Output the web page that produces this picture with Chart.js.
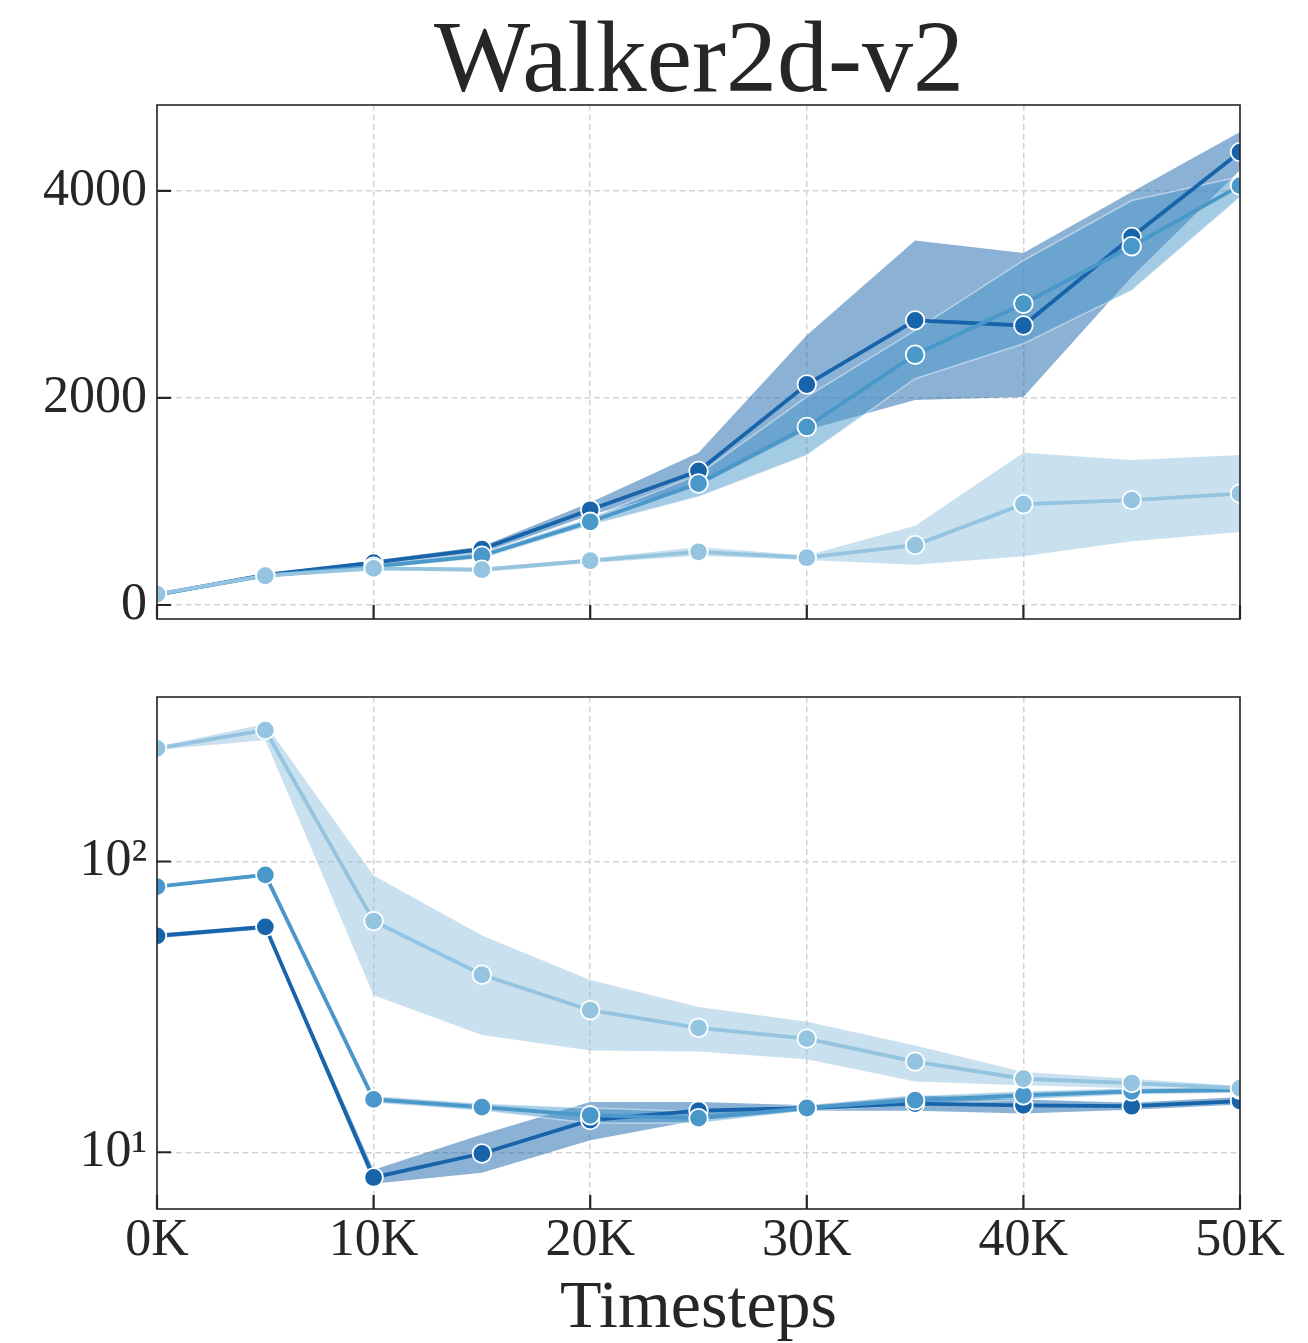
<!DOCTYPE html>
<html>
<head>
<meta charset="utf-8">
<script src="https://cdn.jsdelivr.net/npm/chart.js@4.4.1/dist/chart.umd.min.js"></script>
<style>
  html, body { margin: 0; padding: 0; background: #ffffff; }
  body { width: 1308px; height: 1343px; position: relative; overflow: hidden; font-family: 'Liberation Serif', 'DejaVu Serif', serif; color: #262626; }
  #title { position: absolute; left: 0; width: 1398px; top: 6px; text-align: center; font-size: 102px; line-height: 1; white-space: nowrap; }
  #xlabel { position: absolute; left: 0; width: 1397px; top: 1270px; text-align: center; font-size: 68px; line-height: 1; white-space: nowrap; }
  #c1 { position: absolute; left: 0; top: 0; }
  #c2 { position: absolute; left: 0; top: 640px; }
</style>
</head>
<body>
<div id="title">Walker2d-v2</div>
<canvas id="c1" width="1308" height="640"></canvas>
<canvas id="c2" width="1308" height="703"></canvas>
<div id="xlabel">Timesteps</div>
<script>
// ---------- data ----------
const timesteps = [0, 5000, 10000, 15000, 20000, 25000, 30000, 35000, 40000, 45000, 50000];
const xTicks = [0, 10000, 20000, 30000, 40000, 50000];
const xTickLabels = ['0K', '10K', '20K', '30K', '40K', '50K'];

// top panel (linear)
const yTicksTop = [0, 2000, 4000];
const yTickLabelsTop = ['0', '2000', '4000'];
const darkTop   = [100, 290, 410, 540, 920, 1295, 2130, 2750, 2700, 3555, 4375];
const darkTopLo = [85, 275, 385, 500, 870, 1150, 1690, 1980, 2010, 3170, 4200];
const darkTopHi = [115, 305, 430, 565, 990, 1470, 2605, 3520, 3400, 3990, 4570];
const midTop    = [100, 285, 370, 476, 804, 1174, 1720, 2418, 2910, 3466, 4051];
const midTopLo  = [90, 275, 350, 450, 770, 1045, 1447, 2186, 2524, 3039, 3940];
const midTopHi  = [110, 295, 395, 505, 840, 1260, 2010, 2653, 3328, 3907, 4138];
const lightTop   = [105, 283, 354, 341, 428, 514, 457, 579, 974, 1013, 1077];
const lightTopLo = [95, 270, 335, 320, 405, 475, 435, 390, 470, 615, 705];
const lightTopHi = [115, 295, 372, 360, 450, 560, 478, 765, 1470, 1400, 1450];

// bottom panel (log)
const yTicksBot = [10, 100];
const yTickLabelsBot = ['10\u00B9', '10\u00B2'];
const darkBot   = [55.5, 59.6, 8.19, 9.9, 12.9, 13.9, 14.2, 14.7, 14.5, 14.4, 15.0];
const darkBotLo = [54.5, 58.5, 7.8, 8.5, 11.0, 12.9, 13.9, 13.9, 13.6, 14.0, 14.6];
const darkBotHi = [56.5, 60.5, 8.7, 11.5, 14.9, 14.9, 14.5, 15.7, 15.2, 14.8, 15.5];
const midBot    = [82, 90, 15.2, 14.3, 13.4, 13.1, 14.2, 15.1, 15.7, 16.2, 16.4];
const midBotLo  = [81, 89, 14.8, 13.9, 12.6, 12.6, 13.9, 14.6, 15.2, 15.8, 16.0];
const midBotHi  = [83, 91, 15.6, 14.7, 14.2, 13.8, 14.5, 15.6, 16.2, 16.6, 16.8];
const lightBot   = [245, 283, 62.4, 40.8, 30.8, 26.8, 24.6, 20.5, 17.9, 17.3, 16.6];
const lightBotLo = [242, 262, 34.7, 25.3, 22.4, 22.2, 20.9, 17.5, 17.0, 16.6, 16.2];
const lightBotHi = [248, 297, 89.5, 55.7, 39.1, 31.6, 28.1, 23.3, 18.9, 17.9, 16.9];

// ---------- styles ----------
const COLORS = { dark: '#1764ab', mid: '#4a98c9', light: '#94c4df' };
const BANDS = { dark: 'rgba(23,100,171,0.5)', mid: 'rgba(74,152,201,0.5)', light: 'rgba(148,196,223,0.5)' };
const TEXT = '#262626';
const FONT = "'Liberation Serif', 'DejaVu Serif', serif";
const GRID = '#d3d3d3';

function pts(arr) { return arr.map((v, i) => ({ x: timesteps[i], y: v })); }

function bandPair(lo, hi, key, orderBase, edge) {
  const edgeColor = edge ? 'rgba(255,255,255,0.45)' : 'rgba(0,0,0,0)';
  const common = { pointRadius: 0, pointHoverRadius: 0, tension: 0, clip: 0,
                   borderColor: edgeColor, borderWidth: edge ? 1.5 : 0 };
  return [
    Object.assign({}, common, { data: pts(lo), fill: false, order: orderBase + 1 }),
    Object.assign({}, common, { data: pts(hi), fill: '-1', backgroundColor: BANDS[key], order: orderBase })
  ];
}
function lineDs(vals, key, order) {
  return { data: pts(vals), borderColor: COLORS[key], borderWidth: 3.8, tension: 0, clip: 0,
           pointRadius: 9.3, pointHoverRadius: 9.3, pointBackgroundColor: COLORS[key],
           pointBorderColor: '#ffffff', pointBorderWidth: 1.8, fill: false, order: order };
}

const frameTicksPlugin = {
  id: 'frameTicks',
  afterDraw(chart) {
    const ctx = chart.ctx, a = chart.chartArea;
    const xs = chart.scales.x, ys = chart.scales.y;
    ctx.save();
    ctx.strokeStyle = TEXT;
    ctx.lineWidth = 2.2;
    ctx.beginPath();
    xs.ticks.forEach(t => {
      const px = xs.getPixelForValue(t.value);
      ctx.moveTo(px, a.bottom); ctx.lineTo(px, a.bottom - 14);
    });
    ys.ticks.forEach(t => {
      const py = ys.getPixelForValue(t.value);
      ctx.moveTo(a.left, py); ctx.lineTo(a.left + 14, py);
    });
    ctx.stroke();
    ctx.lineWidth = 1.6;
    ctx.strokeRect(a.left, a.top, a.right - a.left, a.bottom - a.top);
    ctx.restore();
  }
};

function makeChart(canvas, cfg) {
  const datasets = [].concat(
    bandPair(cfg.dLo, cfg.dHi, 'dark', 40, false),
    bandPair(cfg.mLo, cfg.mHi, 'mid', 30, true),
    bandPair(cfg.lLo, cfg.lHi, 'light', 20, false),
    [lineDs(cfg.d, 'dark', 3), lineDs(cfg.m, 'mid', 2), lineDs(cfg.l, 'light', 1)]
  );
  return new Chart(canvas, {
    type: 'line',
    data: { datasets },
    plugins: [frameTicksPlugin],
    options: {
      responsive: false,
      animation: false,
      devicePixelRatio: 1,
      events: [],
      layout: { autoPadding: false, padding: { left: 0, right: 68, top: cfg.padTop, bottom: 0 } },
      plugins: { legend: { display: false }, tooltip: { enabled: false }, title: { display: false },
                 filler: { drawTime: 'beforeDatasetsDraw' } },
      scales: {
        x: {
          type: 'linear', min: 0, max: 50000,
          afterBuildTicks: s => { s.ticks = xTicks.map(v => ({ value: v })); },
          afterFit: s => { s.height = cfg.xHeight; s.paddingLeft = 0; s.paddingRight = 0; s.paddingTop = 0; s.paddingBottom = 0; },
          grid: { color: GRID, lineWidth: 1.5, drawTicks: false },
          border: { display: false, dash: [6, 3.5] },
          ticks: {
            display: cfg.showX, padding: 1, maxRotation: 0, minRotation: 0, autoSkip: false,
            color: TEXT, font: { family: FONT, size: 52 },
            callback: (v) => { const i = xTicks.indexOf(v); return i >= 0 ? xTickLabels[i] : ''; }
          }
        },
        y: {
          type: cfg.yType, min: cfg.yMin, max: cfg.yMax,
          afterBuildTicks: s => { s.ticks = cfg.yTicks.map(v => ({ value: v })); },
          afterFit: s => { s.width = 157; s.paddingLeft = 0; s.paddingRight = 0; s.paddingTop = 0; s.paddingBottom = 0; },
          grid: { color: GRID, lineWidth: 1.5, drawTicks: false },
          border: { display: false, dash: [6, 3.5] },
          ticks: {
            padding: 10, color: TEXT, font: { family: FONT, size: 52 }, autoSkip: false,
            callback: (v) => { const i = cfg.yTicks.indexOf(v); return i >= 0 ? cfg.yLabels[i] : ''; }
          }
        }
      }
    }
  });
}

makeChart(document.getElementById('c1'), {
  d: darkTop, dLo: darkTopLo, dHi: darkTopHi,
  m: midTop, mLo: midTopLo, mHi: midTopHi,
  l: lightTop, lLo: lightTopLo, lHi: lightTopHi,
  yType: 'linear', yMin: -135, yMax: 4830, yTicks: yTicksTop, yLabels: yTickLabelsTop,
  padTop: 105, xHeight: 21, showX: false
});
makeChart(document.getElementById('c2'), {
  d: darkBot, dLo: darkBotLo, dHi: darkBotHi,
  m: midBot, mLo: midBotLo, mHi: midBotHi,
  l: lightBot, lLo: lightBotLo, lHi: lightBotHi,
  yType: 'logarithmic', yMin: 6.38, yMax: 368, yTicks: yTicksBot, yLabels: yTickLabelsBot,
  padTop: 57, xHeight: 134, showX: true
});
</script>
</body>
</html>
